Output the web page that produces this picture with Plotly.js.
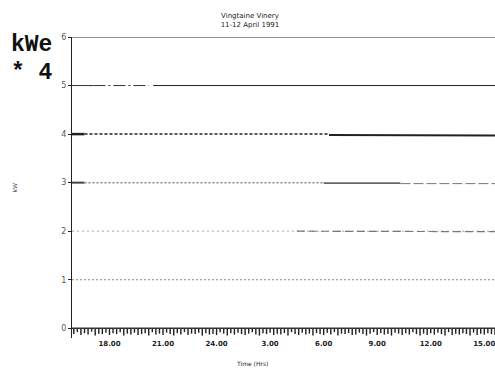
<!DOCTYPE html>
<html><head><meta charset="utf-8">
<script src="https://cdn.plot.ly/plotly-3.0.1.min.js"></script>
<style>html,body{margin:0;padding:0;background:#fff}#chart{width:495px;height:369px}</style>
</head><body><div id="chart"></div>
<script>
// Time axis (hours from 11 April 00:00)
const tickHours = [18, 21, 24, 27, 30, 33, 36, 39];
const tickLabels = ['18.00', '21.00', '24.00', '3.00', '6.00', '9.00', '12.00', '15.00'];
const yTicks = [0, 1, 2, 3, 4, 5, 6];

// Level 5 channel
const t5Start = [15.9, 17.1];  const kwe5Start = [5.0, 5.0];
const t5Dash = [17.1, 20.2];   const kwe5Dash = [5.0, 5.0];
const t5Solid = [20.45, 39.6]; const kwe5Solid = [5.0, 5.0];
// Level 4 channel
const t4Start = [15.9, 16.6];  const kwe4Start = [4.0, 4.0];
const t4Dot = [16.6, 30.3];    const kwe4Dot = [4.0, 4.0];
const t4Solid = [30.3, 39.6];  const kwe4Solid = [3.98, 3.97];
// Level 3 channel
const t3Start = [15.9, 16.6];  const kwe3Start = [3.0, 3.0];
const t3Dot = [16.6, 30.0];    const kwe3Dot = [3.0, 3.0];
const t3Solid = [30.0, 34.3];  const kwe3Solid = [2.99, 2.99];
const t3Dash = [34.3, 39.6];   const kwe3Dash = [2.98, 2.98];
// Level 2 channel
const t2Dot = [15.9, 39.6];    const kwe2Dot = [2.0, 2.0];
const t2Dash = [28.5, 39.6];   const kwe2Dash = [2.0, 1.99];
// Level 1 channel
const t1Dot = [15.9, 39.6];    const kwe1Dot = [1.0, 1.0];
// Level 0 channel baseline
const t0Line = [15.9, 39.6];   const kwe0Line = [0.0, 0.0];

// Near-zero noisy channel (downward spikes)
const noiseTime = [16.0,16.2,16.4,16.6,16.8,17.0,17.2,17.4,17.6,17.8,18.0,18.2,18.4,18.6,18.8,19.0,19.2,19.4,19.6,19.8,20.0,20.2,20.4,20.6,20.8,21.0,21.2,21.4,21.6,21.8,22.0,22.2,22.4,22.6,22.8,23.0,23.2,23.4,23.6,23.8,24.0,24.2,24.4,24.6,24.8,25.0,25.2,25.4,25.6,25.8,26.0,26.2,26.4,26.6,26.8,27.0,27.2,27.4,27.6,27.8,28.0,28.2,28.4,28.6,28.8,29.0,29.2,29.4,29.6,29.8,30.0,30.2,30.4,30.6,30.8,31.0,31.2,31.4,31.6,31.8,32.0,32.2,32.4,32.6,32.8,33.0,33.2,33.4,33.6,33.8,34.0,34.2,34.4,34.6,34.8,35.0,35.2,35.4,35.6,35.8,36.0,36.2,36.4,36.6,36.8,37.0,37.2,37.4,37.6,37.8,38.0,38.2,38.4,38.6,38.8,39.0,39.2,39.4,39.6];
const noiseKwe = [-0.12,-0.08,-0.14,-0.10,-0.13,-0.07,-0.15,-0.11,-0.12,-0.09,
-0.14,-0.10,-0.12,-0.08,-0.15,-0.11,-0.13,-0.09,-0.14,-0.12,
-0.10,-0.15,-0.08,-0.13,-0.11,-0.14,-0.09,-0.12,-0.15,-0.10,
-0.13,-0.08,-0.14,-0.11,-0.12,-0.09,-0.15,-0.10,-0.13,-0.12,
-0.14,-0.08,-0.11,-0.15,-0.10,-0.13,-0.09,-0.12,-0.14,-0.11,
-0.08,-0.13,-0.15,-0.10,-0.12,-0.09,-0.14,-0.11,-0.13,-0.10,
-0.15,-0.08,-0.12,-0.14,-0.09,-0.13,-0.11,-0.15,-0.10,-0.12,
-0.14,-0.09,-0.13,-0.08,-0.15,-0.11,-0.12,-0.10,-0.14,-0.13,
-0.09,-0.12,-0.15,-0.11,-0.08,-0.14,-0.10,-0.13,-0.12,-0.15,
-0.09,-0.11,-0.14,-0.10,-0.13,-0.08,-0.12,-0.15,-0.11,-0.14,
-0.10,-0.13,-0.09,-0.12,-0.15,-0.08,-0.14,-0.11,-0.13,-0.10,
-0.12,-0.15,-0.09,-0.14,-0.11,-0.13,-0.10,-0.12,-0.14];

function seg(x, y, color, width, dash) {
  return {x: x, y: y, type: 'scatter', mode: 'lines', hoverinfo: 'skip',
          line: {color: color, width: width, dash: dash}};
}

const traces = [
  {x: noiseTime, y: noiseKwe, type: 'bar', base: 0, width: 0.08, hoverinfo: 'skip',
   marker: {color: '#222', line: {width: 0}}},
  seg(t0Line, kwe0Line, '#333', 1.4, 'solid'),
  seg(t5Start, kwe5Start, '#333', 1, 'solid'),
  seg(t5Dash, kwe5Dash, '#333', 1, '12px,3px,2px,3px'),
  seg(t5Solid, kwe5Solid, '#222', 1, 'solid'),
  seg(t4Start, kwe4Start, '#222', 2.5, 'solid'),
  seg(t4Dot, kwe4Dot, '#555', 2, '3px,2px'),
  seg(t4Solid, kwe4Solid, '#222', 2, 'solid'),
  seg(t3Start, kwe3Start, '#444', 2, 'solid'),
  seg(t3Dot, kwe3Dot, '#888', 1.5, '2px,2px'),
  seg(t3Solid, kwe3Solid, '#666', 1.6, 'solid'),
  seg(t3Dash, kwe3Dash, '#777', 1, '10px,3px'),
  seg(t2Dot, kwe2Dot, '#aaa', 1, '2px,3px'),
  seg(t2Dash, kwe2Dash, '#777', 1.2, '8px,4px'),
  seg(t1Dot, kwe1Dot, '#888', 1, '2px,2px')
];

const layout = {
  width: 495, height: 369,
  margin: {l: 72, r: 0, t: 37, b: 31},
  paper_bgcolor: '#fff', plot_bgcolor: '#fff',
  showlegend: false,
  font: {family: 'DejaVu Sans', color: '#222'},
  title: {text: 'Vingtaine Vinery<br>11-12 April 1991', x: 0.505, xanchor: 'center',
          y: 0.952, yanchor: 'middle', font: {size: 7, color: '#222'}},
  xaxis: {range: [15.9, 39.6], tickvals: tickHours, ticktext: tickLabels,
          showgrid: false, zeroline: false, showline: false, ticks: '',
          ticklabelstandoff: 0, ticklabeloverflow: 'allow',
          tickfont: {size: 7, color: '#222', weight: 'bold'}},
  yaxis: {range: [-0.2, 6], tickvals: yTicks, ticktext: yTicks.map(String),
          showgrid: false, zeroline: false, showline: true, linecolor: '#222', linewidth: 1,
          ticks: 'outside', ticklen: 3, tickcolor: '#222',
          tickfont: {size: 8, color: '#555'}},
  shapes: [
    {type: 'line', xref: 'paper', yref: 'y', x0: 0, x1: 1, y0: 6, y1: 6,
     line: {color: '#222', width: 1}}
  ],
  annotations: [
    {text: 'kWe', xref: 'paper', yref: 'paper', x: -0.148, y: 0.973, xanchor: 'left', yanchor: 'middle',
     showarrow: false, font: {family: 'Liberation Mono', size: 23, color: '#111', weight: 'bold'}},
    {text: '* 4', xref: 'paper', yref: 'paper', x: -0.148, y: 0.882, xanchor: 'left', yanchor: 'middle',
     showarrow: false, font: {family: 'Liberation Mono', size: 23, color: '#111', weight: 'bold'}},
    {text: 'kW', xref: 'paper', yref: 'paper', x: -0.135, y: 0.5, xanchor: 'center', yanchor: 'middle',
     textangle: -90, showarrow: false, font: {size: 6, color: '#444'}},
    {text: 'Time (Hrs)', xref: 'paper', yref: 'paper', x: 0.426, y: -0.085, xanchor: 'center', yanchor: 'middle',
     showarrow: false, font: {size: 6, color: '#222'}}
  ]
};

Plotly.newPlot('chart', traces, layout, {displayModeBar: false, staticPlot: true});
</script>
</body></html>
